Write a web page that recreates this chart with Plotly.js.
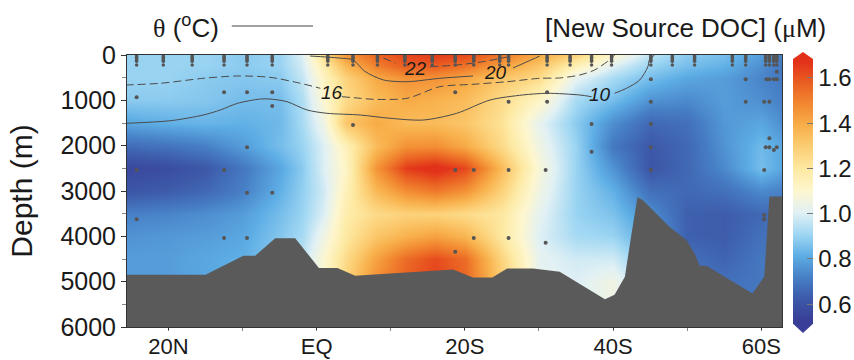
<!DOCTYPE html>
<html>
<head>
<meta charset="utf-8">
<script src="https://cdn.plot.ly/plotly-3.0.1.min.js"></script>
<style>html,body{margin:0;padding:0;background:#fff;}#chart{width:854px;height:360px;}</style>
</head>
<body>
<div id="chart"></div>
<script>
// ---- DATA ----
// grid of latitudes (negative = N, positive = S) and depths (m)
const lat = [-25.6, -20, -15, -10, -5, -2, 1, 4, 8, 12, 16, 20, 25, 30, 35, 40, 45, 50, 55, 60, 62.8];
const depth = [0, 250, 500, 1000, 1500, 2000, 2500, 3000, 3500, 4000, 4500, 5000, 6000];
// New Source DOC (uM), rows = depth, columns = lat
const doc = [
  [0.90,0.90,0.90,0.88,0.90,1.00,1.25,1.45,1.56,1.63,1.65,1.62,1.52,1.40,1.28,1.10,0.95,0.88,0.85,0.78,0.72],
  [0.90,0.90,0.90,0.88,0.90,0.98,1.18,1.36,1.50,1.58,1.58,1.53,1.42,1.32,1.15,1.00,0.90,0.85,0.82,0.75,0.70],
  [0.90,0.90,0.88,0.87,0.88,0.96,1.13,1.28,1.40,1.46,1.46,1.41,1.32,1.25,1.02,0.92,0.85,0.80,0.78,0.73,0.70],
  [0.88,0.88,0.87,0.85,0.85,0.93,1.10,1.25,1.35,1.40,1.38,1.35,1.25,1.12,0.92,0.85,0.76,0.74,0.78,0.75,0.72],
  [0.80,0.82,0.83,0.82,0.84,0.92,1.05,1.32,1.40,1.35,1.35,1.32,1.22,1.02,0.88,0.75,0.66,0.68,0.77,0.80,0.75],
  [0.67,0.69,0.72,0.78,0.85,0.90,1.00,1.15,1.35,1.46,1.47,1.40,1.25,1.05,0.90,0.70,0.62,0.66,0.76,0.84,0.80],
  [0.56,0.58,0.62,0.70,0.80,0.88,1.00,1.12,1.45,1.65,1.70,1.63,1.35,1.08,0.90,0.76,0.61,0.66,0.74,0.85,0.80],
  [0.61,0.63,0.66,0.72,0.82,0.89,0.98,1.15,1.36,1.47,1.52,1.46,1.28,1.05,0.90,0.82,0.68,0.66,0.68,0.74,0.72],
  [0.72,0.73,0.75,0.78,0.85,0.90,1.00,1.18,1.25,1.28,1.28,1.25,1.20,1.02,0.90,0.86,0.75,0.64,0.63,0.66,0.68],
  [0.76,0.77,0.78,0.80,0.87,0.92,1.05,1.20,1.32,1.38,1.42,1.37,1.20,1.00,0.92,0.90,0.80,0.64,0.63,0.68,0.70],
  [0.78,0.78,0.80,0.82,0.88,0.95,1.10,1.25,1.42,1.55,1.62,1.55,1.27,1.02,0.98,0.98,0.85,0.68,0.65,0.70,0.70],
  [0.78,0.78,0.80,0.82,0.88,0.95,1.10,1.28,1.47,1.58,1.64,1.56,1.30,1.02,1.00,1.05,0.90,0.70,0.68,0.70,0.70],
  [0.78,0.78,0.80,0.82,0.88,0.95,1.10,1.28,1.47,1.58,1.64,1.56,1.30,1.02,1.00,1.05,0.90,0.70,0.68,0.70,0.70]
];
// bathymetry
const bathyLat   = [-26, -15.0, -9.9, -8.3, -5.6, -2.9, 0.3, 2.8, 5.2, 18.4, 21.1, 23.7, 25.7, 29.2, 32.8, 38.9, 40.2, 41.6, 42.5, 43.3, 44.0, 47.6, 49.9, 51.0, 51.7, 52.6, 58.8, 60.4, 61.1, 63.2, 63.2, -26];
const bathyDepth = [4850, 4850, 4430, 4430, 4040, 4040, 4700, 4700, 4870, 4730, 4910, 4910, 4710, 4710, 4780, 5390, 5290, 4890, 3930, 3140, 3200, 3790, 4080, 4380, 4650, 4650, 5260, 4890, 3120, 3120, 6100, 6100];
// potential temperature isolines (deg C)
const t16Lat   = [-25.8, -21.1, -15.3, -10.7, -6.3, -2.2, 0.5, null, 3.4, 5.9, 7.6, 12.2, 16.6, 21.1, 25.7, 30.1, 32.8, 35.5, 37.5, 39.5, 40.2];
const t16Depth = [662, 624, 514, 463, 492, 624, 735, null, 920, 955, 977, 955, 699, 646, 589, 514, 507, 441, 331, 110, 0];
const t10Lat   = [-25.8, -19.7, -15.3, -13.0, -10.7, -7.6, -6.3, -4.0, -1.3, 1.4, 5.9, 9.9, 14.4, 18.9, 23.4, 27.8, 31.1, 35.5, 37.1, null, 40.2, 41.8, 43.6, 44.7, 44.9, 45.6];
const t10Depth = [1507, 1449, 1324, 1213, 1066, 971, 971, 1030, 1213, 1286, 1324, 1396, 1434, 1286, 993, 882, 845, 882, 920, null, 845, 735, 551, 258, 110, 0];
const t20Lat   = [-0.9, 3.0, 4.9, 6.5, 9.0, 12.2, 16.6, 21.1, null, 26.5, 28.4, 30.1];
const t20Depth = [22, 66, 110, 360, 550, 589, 514, 463, null, 287, 148, 22];
const t22Lat   = [9.0, 10.6, null, 15.3, 18.9, 22.4, 25.7];
const t22Depth = [66, 176, null, 258, 221, 148, 44];
const isoLabels = ['16', '10', '20', '22'];
const isoLabelLat = [2.0, 38.3, 24.1, 13.3];
const isoLabelDepth = [820, 880, 380, 290];
// sample positions
const stationLat = [-24.3, -20.7, -16.8, -12.5, -9.4, -6.0, 1.5, 4.9, 8.2, 11.9, 15.6, 18.7, 21.2, 24.7, 25.9, 31.1, 34.2, 37.1, 39.8, 45.1, 48.0, 51.0, 56.1, 57.9, 60.6, 61.1, 61.7, 62.1];
const surfaceDepths = [20, 50, 80, 110, 140, 220];
const deepLat   = [-24.3, -12.5, -9.4, -6.0, -6.0, 4.9, 18.7, 25.9, 31.1, 31.1, 45.1, 45.1, 37.1, 45.1, 57.9, 57.9, 62.1, 60.7, 61.1, 61.7, 62.1, 60.4, 61.1, 61.1, 60.6, 61.1, 62.1, 61.7, -9.4, -24.3, -12.5, 18.7, 21.2, 25.9, 30.9, 45.1, 60.4, -9.4, -6.0, -24.3, -12.5, -9.4, 21.2, 25.9, 30.9, 18.7, 37.1, 45.1, 60.4, 60.4];
const deepDepth = [933, 823, 823, 823, 1125, 1544, 823, 1030, 823, 1030, 537, 1030, 1522, 1522, 537, 1030, 368, 537, 537, 537, 537, 1030, 1030, 1838, 2037, 2037, 2037, 2096, 2037, 2537, 2537, 2537, 2537, 2537, 2537, 2537, 2537, 3037, 3037, 3625, 4037, 4037, 4037, 4037, 4140, 4340, 2133, 2037, 3625, 3530];
// ticks
const xTickVals = [-20, 0, 20, 40, 60];
const xTickText = ['20N', 'EQ', '20S', '40S', '60S'];
const yTickVals = [0, 1000, 2000, 3000, 4000, 5000, 6000];
const cbTickVals = [0.6, 0.8, 1.0, 1.2, 1.4, 1.6];
const cbTickText = ['0.6', '0.8', '1.0', '1.2', '1.4', '1.6'];

// ---- BUILD ----
const FONT = 'Liberation Sans, Arial, sans-serif';
const colorscale = [
  [0.000, '#393f98'], [0.083, '#3d5aa9'], [0.167, '#4780c6'], [0.250, '#5eaee5'],
  [0.333, '#a0d7f3'], [0.417, '#e2f1f4'], [0.500, '#fdf6cf'], [0.583, '#fdeaa4'],
  [0.667, '#fccf76'], [0.750, '#f8b04b'], [0.833, '#f28a32'], [0.917, '#ea6022'], [1.000, '#e2321a']
];
const sfLat = [], sfDepth = [];
stationLat.forEach(la => surfaceDepths.forEach(d => { sfLat.push(la); sfDepth.push(d); }));

const isoLine = (x, y, dash) => ({
  type: 'scatter', mode: 'lines', x: x, y: y, hoverinfo: 'skip', showlegend: false,
  connectgaps: false,
  line: {color: '#4a4a4a', width: 1, dash: dash, shape: 'spline', smoothing: 0.8}
});

const traces = [
  {
    type: 'heatmap', x: lat, y: depth, z: doc, zsmooth: 'best',
    zmin: 0.53, zmax: 1.67, colorscale: colorscale, showscale: true,
    colorbar: {
      x: 1.0168, xanchor: 'left', thickness: 20, thicknessmode: 'pixels',
      len: 0.949, lenmode: 'fraction', y: 0.5, yanchor: 'middle', ypad: 0, xpad: 0,
      outlinewidth: 0, tickvals: cbTickVals, ticktext: cbTickText,
      ticks: 'inside', ticklen: 6, tickcolor: '#777', tickwidth: 1,
      tickfont: {family: FONT, size: 24, color: '#1a1a1a'}
    }
  },
  {
    type: 'scatter', mode: 'lines', x: bathyLat, y: bathyDepth, fill: 'toself',
    fillcolor: '#5a5a5a', line: {width: 0, color: '#5a5a5a'}, hoverinfo: 'skip', showlegend: false
  },
  isoLine(t16Lat, t16Depth, '8px,4px'),
  isoLine(t10Lat, t10Depth, 'solid'),
  isoLine(t20Lat, t20Depth, 'solid'),
  isoLine(t22Lat, t22Depth, '8px,4px'),
  {
    type: 'scatter', mode: 'markers', x: sfLat, y: sfDepth, hoverinfo: 'skip', showlegend: false,
    marker: {size: 3.5, color: '#555'}
  },
  {
    type: 'scatter', mode: 'markers', x: deepLat, y: deepDepth, hoverinfo: 'skip', showlegend: false,
    marker: {size: 4, color: '#555'}
  }
];

const annotations = isoLabels.map((t, i) => ({
  x: isoLabelLat[i], y: isoLabelDepth[i], xref: 'x', yref: 'y', text: '<i>' + t + '</i>',
  showarrow: false, font: {family: FONT, size: 19, color: '#1a1a1a'}
}));
annotations.push({
  xref: 'paper', yref: 'paper', x: 0.1435, y: 1.103, xanchor: 'right', yanchor: 'middle',
  showarrow: false, text: '<span style="font-family:Liberation Serif">θ</span> (<sup>o</sup>C)',
  font: {family: FONT, size: 26, color: '#1a1a1a'}
});
annotations.push({
  xref: 'paper', yref: 'paper', x: 1.0702, y: 1.10, xanchor: 'right', yanchor: 'middle',
  showarrow: false, text: '[New Source DOC] (<span style="font-family:Liberation Serif">μ</span>M)',
  font: {family: FONT, size: 26, color: '#1a1a1a'}
});

const cbx0 = 1.0168, cbx1 = 1.0168 + 20 / 655;
const layout = {
  width: 854, height: 360,
  margin: {l: 127, r: 72, t: 55, b: 33, autoexpand: false},
  paper_bgcolor: '#fff', plot_bgcolor: '#fff',
  showlegend: false,
  font: {family: FONT, color: '#1a1a1a'},
  xaxis: {
    range: [-25.6, 62.8], tickmode: 'array', tickvals: xTickVals, ticktext: xTickText,
    ticks: 'outside', ticklen: 2, tickcolor: '#333', showgrid: false, zeroline: false,
    showline: true, linecolor: '#333', linewidth: 1, mirror: true, automargin: false,
    tickfont: {family: FONT, size: 22, color: '#1a1a1a'}, ticklabelstandoff: -2,
    minor: {tickmode: 'linear', tick0: 0, dtick: 10, ticks: 'outside', ticklen: 3, tickcolor: '#888'}
  },
  yaxis: {
    range: [6000, 0], tickmode: 'array', tickvals: yTickVals,
    ticks: 'outside', ticklen: 5, tickcolor: '#333', showgrid: false, zeroline: false,
    showline: true, linecolor: '#333', linewidth: 1, mirror: true, automargin: false,
    tickfont: {family: FONT, size: 25, color: '#1a1a1a'},
    title: {text: 'Depth (m)', font: {family: FONT, size: 30, color: '#1a1a1a'}, standoff: 18},
    minor: {tickmode: 'linear', tick0: 0, dtick: 500, ticks: 'outside', ticklen: 4, tickcolor: '#888'}
  },
  annotations: annotations,
  shapes: [
    {type: 'line', xref: 'paper', yref: 'paper', x0: 0.160, x1: 0.284, y0: 1.1066, y1: 1.1066,
     line: {color: '#444', width: 1}},
    {type: 'path', xref: 'paper', yref: 'paper',
     path: `M ${cbx0} 0.9745 L ${cbx1} 0.9745 L ${cbx1} 0.985 L ${(cbx0 + cbx1) / 2} 1.011 L ${cbx0} 0.985 Z`,
     fillcolor: '#e2321a', line: {width: 0}},
    {type: 'path', xref: 'paper', yref: 'paper',
     path: `M ${cbx0} 0.0255 L ${cbx1} 0.0255 L ${cbx1} 0.012 L ${(cbx0 + cbx1) / 2} -0.022 L ${cbx0} 0.012 Z`,
     fillcolor: '#393f98', line: {width: 0}}
  ]
};

Plotly.newPlot('chart', traces, layout, {staticPlot: true, displayModeBar: false});
</script>
</body>
</html>
